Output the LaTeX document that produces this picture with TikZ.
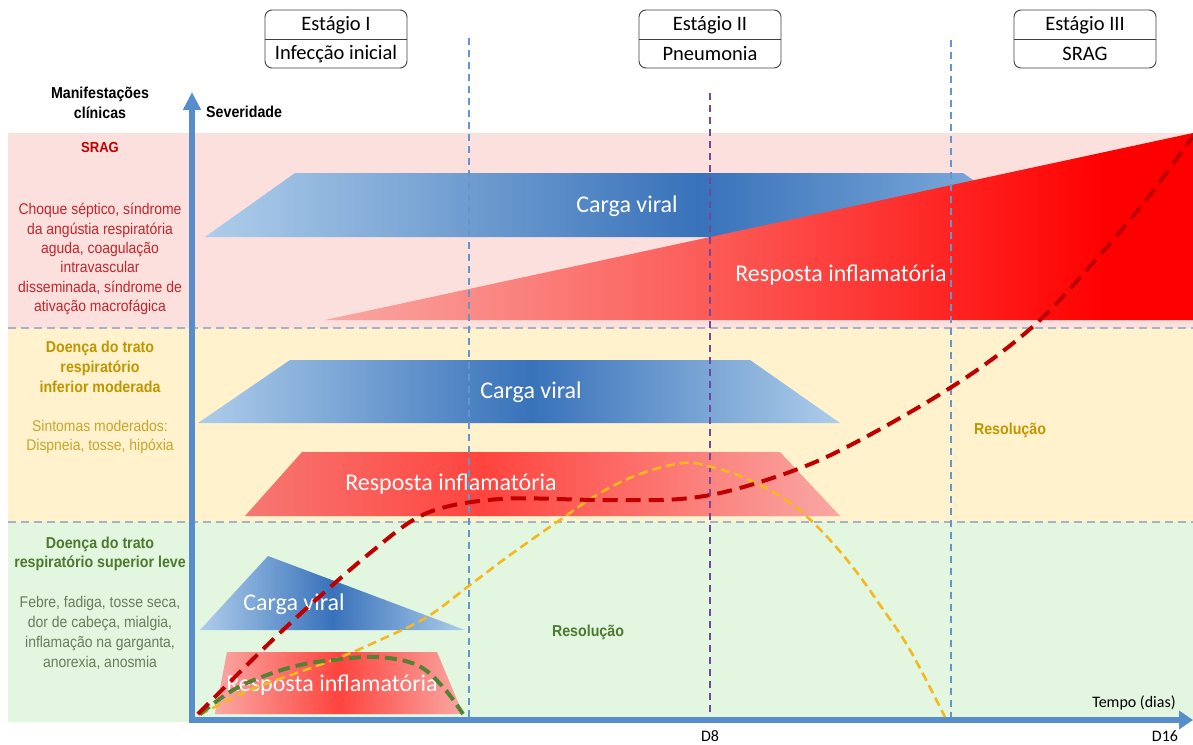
\documentclass[tikz,border=0pt]{standalone}
\usepackage{fontspec}
\setmainfont{Carlito}
\newfontfamily\lab[FakeStretch=0.9]{Liberation Sans}
\usetikzlibrary{arrows.meta}

% band and line colours
\definecolor{bandR}{RGB}{252,224,222}
\definecolor{bandY}{RGB}{255,242,204}
\definecolor{bandG}{RGB}{226,246,224}
\definecolor{sepc}{RGB}{168,178,198}
\definecolor{axisc}{RGB}{88,141,204}
\definecolor{stagec}{RGB}{100,150,205}
\definecolor{d8c}{RGB}{112,72,160}
% fills of the bars
\definecolor{cvL}{RGB}{174,205,234}
\definecolor{cvLR}{RGB}{140,182,224}
\definecolor{cvD}{RGB}{56,114,186}
\definecolor{riL}{RGB}{249,168,164}
\definecolor{riS}{RGB}{246,120,115}
\definecolor{riM}{RGB}{252,88,84}
\definecolor{riH}{RGB}{255,68,62}
\definecolor{riR}{RGB}{255,0,0}
% curves
\definecolor{curR}{RGB}{192,0,0}
\definecolor{curY}{RGB}{245,185,30}
\definecolor{curG}{RGB}{84,130,53}
% left column texts
\definecolor{txR}{RGB}{192,0,0}
\definecolor{txRp}{RGB}{190,40,45}
\definecolor{txY}{RGB}{191,150,0}
\definecolor{txYp}{RGB}{200,165,45}
\definecolor{txG}{RGB}{78,120,45}
\definecolor{txGp}{RGB}{108,124,92}

% horizontal colour ramps (the 25bp..75bp part spans the filled shape)
\pgfdeclarehorizontalshading{cvtop}{100bp}{color(0bp)=(cvL); color(25bp)=(cvL); color(54bp)=(cvD); color(75bp)=(cvLR); color(100bp)=(cvLR)}
\pgfdeclarehorizontalshading{ritop}{100bp}{color(0bp)=(riL); color(25bp)=(riL); color(48bp)=(riM); color(70bp)=(riR); color(100bp)=(riR)}
\pgfdeclarehorizontalshading{cvmid}{100bp}{color(0bp)=(cvL); color(25bp)=(cvL); color(51bp)=(cvD); color(75bp)=(cvL); color(100bp)=(cvL)}
\pgfdeclarehorizontalshading{rimid}{100bp}{color(0bp)=(riS); color(25bp)=(riS); color(45bp)=(riH); color(75bp)=(riL); color(100bp)=(riL)}
\pgfdeclarehorizontalshading{cvbot}{100bp}{color(0bp)=(cvL); color(25bp)=(cvL); color(50bp)=(cvD); color(75bp)=(cvL); color(100bp)=(cvL)}
\pgfdeclarehorizontalshading{ribot}{100bp}{color(0bp)=(riL); color(25bp)=(riL); color(50bp)=(riH); color(75bp)=(riL); color(100bp)=(riL)}

\begin{document}
\begin{tikzpicture}[x=1pt,y=-1pt,
  sep/.style={sepc, line width=1.8pt, dash pattern=on 8pt off 5pt},
  stagedash/.style={stagec, line width=1.5pt, dash pattern=on 7pt off 5pt},
  d8dash/.style={d8c, line width=1.8pt, dash pattern=on 7pt off 5pt},
  axisline/.style={axisc, line width=5.5pt},
  shtext/.style={text=white, font=\fontsize{24}{26}\selectfont, inner sep=0pt},
  stagebox/.style={draw=black!75, line width=0.9pt, fill=white, rounded corners=7pt,
    minimum width=142pt, minimum height=58pt, inner sep=0pt},
  stagetxt/.style={font=\fontsize{20.5}{22}\selectfont, inner sep=0pt},
  headlbl/.style={font=\lab\bfseries\fontsize{15.8}{20}\selectfont, align=center, inner sep=0pt},
  bandhead/.style={font=\lab\bfseries\fontsize{15.8}{20}\selectfont, align=center, inner sep=0pt},
  bandtxt/.style={font=\lab\fontsize{15.5}{19.3}\selectfont, align=center, inner sep=0pt},
  axistxt/.style={font=\fontsize{16}{18}\selectfont, inner sep=0pt},
  curveR/.style={curR, line width=4pt, dash pattern=on 15pt off 8pt},
  curveY/.style={curY, line width=2.6pt, dash pattern=on 9pt off 5pt},
  curveG/.style={curG, line width=4pt, dash pattern=on 12pt off 6pt}]

\useasboundingbox (0,0) rectangle (1193,744);
\fill[white] (0,0) rectangle (1193,744);

% severity bands
\fill[bandR] (8,133) rectangle (1193,328);
\fill[bandY] (8,328) rectangle (1193,522);
\fill[bandG] (8,522) rectangle (1193,722);
\draw[sep] (8,328) -- (1193,328);
\draw[sep] (8,522) -- (1193,522);

% upper band: viral load and inflammatory response
\shade[shading=cvtop] (205,237) -- (295,173) -- (963,173) -- (1055,237) -- cycle;
\shade[shading=ritop] (325,320) -- (1193,133) -- (1193,320) -- cycle;
\node[shtext] (cv1) at (627,206) {Carga viral};
\node[shtext] (ri1) at (841,275) {Resposta inflamatória};

% middle band
\shade[shading=cvmid] (198,423) -- (290,360) -- (750,360) -- (840,423) -- cycle;
\shade[shading=rimid] (245,516) -- (302,452) -- (780,452) -- (840,516) -- cycle;
\node[shtext] (cv2) at (531,392) {Carga viral};
\node[shtext] (ri2) at (451,484) {Resposta inflamatória};

% lower band
\shade[shading=cvbot] (200,630) -- (268,556) -- (465,630) -- cycle;
\shade[shading=ribot] (215,714) -- (227,652) -- (437,652) -- (463,714) -- cycle;
\node[shtext] (cv3) at (294,604) {Carga viral};
\node[shtext] (ri3) at (332,685) {Resposta inflamatória};

% stage limits and day 8
\draw[stagedash] (469,38) -- (469,719);
\draw[stagedash] (951,40) -- (951,719);
\draw[d8dash] (710,93) -- (710,719);

% resolution labels
\node[bandhead, text=txG] (res1) at (588,632) {Resolução};
\node[bandhead, text=txY] (res2) at (1010,430) {Resolução};

% curves
\draw[curveY] plot[smooth, tension=0.6] coordinates {(200,715) (250,690) (333,660) (380,640) (427,617) (470,585) (510,555) (557,522) (600,493) (640,474) (683,463) (712,467) (745,478) (780,496) (805,515) (830,540) (855,570) (880,605) (910,650) (945,717)};
\draw[curveG] plot[smooth, tension=0.6] coordinates {(200,714) (233,690) (267,675) (300,665) (333,660) (377,657) (417,665) (443,687) (463,714)};
\draw[curveR] plot[smooth, tension=0.55] coordinates {(198,714) (283,630) (370,553) (427,513) (500,499) (600,500) (680,499) (740,488) (820,460) (907,414) (980,368) (1040,320) (1100,255) (1150,195) (1193,136)};

% axes
\draw[axisline, -{Triangle[length=18pt,width=17pt]}] (192,723) -- (192,92);
\draw[axisline, -{Triangle[length=14pt,width=18pt]}] (189,720) -- (1193,720);
\node[headlbl, anchor=west] (sev) at (206,112) {Severidade};
\node[axistxt] (tempo) at (1134,703) {Tempo (dias)};
\node[axistxt] (d8) at (710,736) {D8};
\node[axistxt] (d16) at (1165,736) {D16};

% left column
\node[headlbl] (manif) at (100,103) {Manifestações\\clínicas};
\node[bandhead, text=txR, font=\lab\bfseries\fontsize{14.5}{16}\selectfont] (srag) at (100,148) {SRAG};
\node[bandtxt, text=txRp] (sragtx) at (100,259) {Choque séptico, síndrome\\da angústia respiratória\\aguda, coagulação\\intravascular\\disseminada, síndrome de\\ativação macrofágica};
\node[bandhead, text=txY] (mod) at (100,367) {Doença do trato\\respiratório\\inferior moderada};
\node[bandtxt, text=txYp] (modtx) at (100,437) {Sintomas moderados:\\Dispneia, tosse, hipóxia};
\node[bandhead, text=txG, font=\lab\bfseries\fontsize{15.8}{18.5}\selectfont] (lev) at (100,554) {Doença do trato\\respiratório superior leve};
\node[bandtxt, text=txGp, font=\lab\fontsize{15.5}{20}\selectfont] (levtx) at (100,633) {Febre, fadiga, tosse seca,\\dor de cabeça, mialgia,\\inflamação na garganta,\\anorexia, anosmia};

% stage boxes
\node[stagebox] (st1) at (336,39) {};
\draw[black!75, line width=0.9pt] (st1.west) -- (st1.east);
\node[stagetxt] (st1a) at (336,25) {Estágio I};
\node[stagetxt] (st1b) at (336,54) {Infecção inicial};
\node[stagebox] (st2) at (710,39) {};
\draw[black!75, line width=0.9pt] (st2.west) -- (st2.east);
\node[stagetxt] (st2a) at (710,25) {Estágio II};
\node[stagetxt] (st2b) at (710,54) {Pneumonia};
\node[stagebox] (st3) at (1085,39) {};
\draw[black!75, line width=0.9pt] (st3.west) -- (st3.east);
\node[stagetxt] (st3a) at (1085,25) {Estágio III};
\node[stagetxt] (st3b) at (1085,54) {SRAG};
\end{tikzpicture}
\end{document}
